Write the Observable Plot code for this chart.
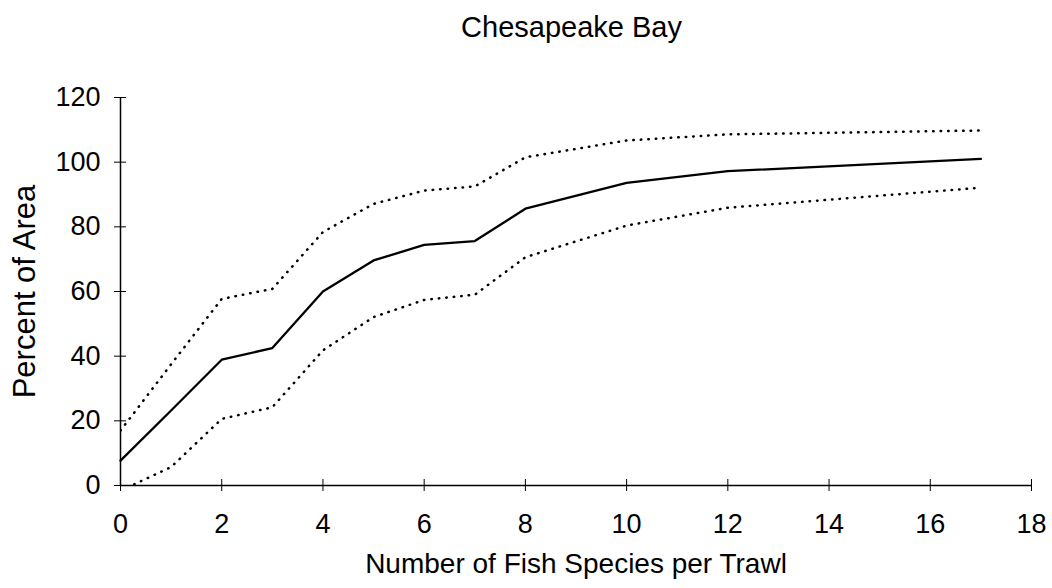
<!DOCTYPE html>
<html>
<head>
<meta charset="utf-8">
<script src="https://cdn.jsdelivr.net/npm/d3@7"></script>
<script src="https://cdn.jsdelivr.net/npm/@observablehq/plot@0.6"></script>
<style>
  html, body { margin: 0; padding: 0; background: #fff; }
  #wrap { position: relative; width: 1052px; height: 588px; font-family: "Liberation Sans", Arial, sans-serif; }
  #title { position: absolute; left: 0; top: 11px; width: 1143px; text-align: center; font-size: 29px; line-height: 33px; color: #000; }
  #chart { position: absolute; left: 0; top: 60px; }
</style>
</head>
<body>
<div id="wrap">
  <div id="title">Chesapeake Bay</div>
  <div id="chart"></div>
</div>
<script>
const species = [0, 1, 2, 3, 4, 5, 6, 7, 8, 10, 12, 17];
const meanPct = [7.7, 23.2, 38.9, 42.5, 60.0, 69.6, 74.4, 75.6, 85.6, 93.6, 97.2, 101.0];
const upperPct = [17.0, 37.5, 57.7, 60.8, 78.4, 87.1, 91.2, 92.5, 101.5, 106.7, 108.6, 109.8];
const lowerPct = [-1.6, 5.7, 20.6, 24.2, 41.8, 52.1, 57.4, 59.0, 70.6, 80.4, 85.9, 92.1];
const xTicks = [0, 2, 4, 6, 8, 10, 12, 14, 16, 18];
const yTicks = [0, 20, 40, 60, 80, 100, 120];

const rows = (vals) => species.map((x, i) => ({x, y: vals[i]}));

const fs = 27;
const chart = Plot.plot({
  width: 1052,
  height: 528,
  marginLeft: 120,
  marginRight: 21,
  marginTop: 37,
  marginBottom: 103,
  style: {fontFamily: '"Liberation Sans", Arial, sans-serif', fontSize: fs + "px", color: "#000", background: "#fff", overflow: "visible"},
  x: {domain: [0, 18]},
  y: {domain: [0, 120]},
  marks: [
    Plot.axisX({ticks: xTicks, tickSize: 6, tickPadding: 22, fontSize: fs, label: null}),
    Plot.axisX({ticks: xTicks, tickSize: 0, text: null, fontSize: 28, label: "Number of Fish Species per Trawl", labelAnchor: "center", labelArrow: "none", labelOffset: 87}),
    Plot.axisX({ticks: xTicks, tickSize: 6, text: null, label: null, dy: -6}),
    Plot.axisY({ticks: yTicks, tickSize: 6, tickPadding: 14, fontSize: fs, label: null}),
    Plot.axisY({ticks: yTicks, tickSize: 0, text: null, fontSize: 31, label: "Percent of Area", labelAnchor: "center", labelArrow: "none", labelOffset: 108}),
    Plot.axisY({ticks: yTicks, tickSize: 6, text: null, label: null, dx: 6}),
    Plot.ruleY([0], {stroke: "#000", strokeWidth: 1.5}),
    Plot.ruleX([0], {stroke: "#000", strokeWidth: 1.5}),
    Plot.line(rows(upperPct), {x: "x", y: "y", stroke: "#000", strokeWidth: 2.5, strokeDasharray: "0.5,7", strokeLinecap: "round", clip: true}),
    Plot.line(rows(lowerPct), {x: "x", y: "y", stroke: "#000", strokeWidth: 2.5, strokeDasharray: "0.5,7", strokeLinecap: "round", clip: true}),
    Plot.line(rows(meanPct), {x: "x", y: "y", stroke: "#000", strokeWidth: 2.3})
  ]
});
document.getElementById("chart").appendChild(chart);
</script>
</body>
</html>
